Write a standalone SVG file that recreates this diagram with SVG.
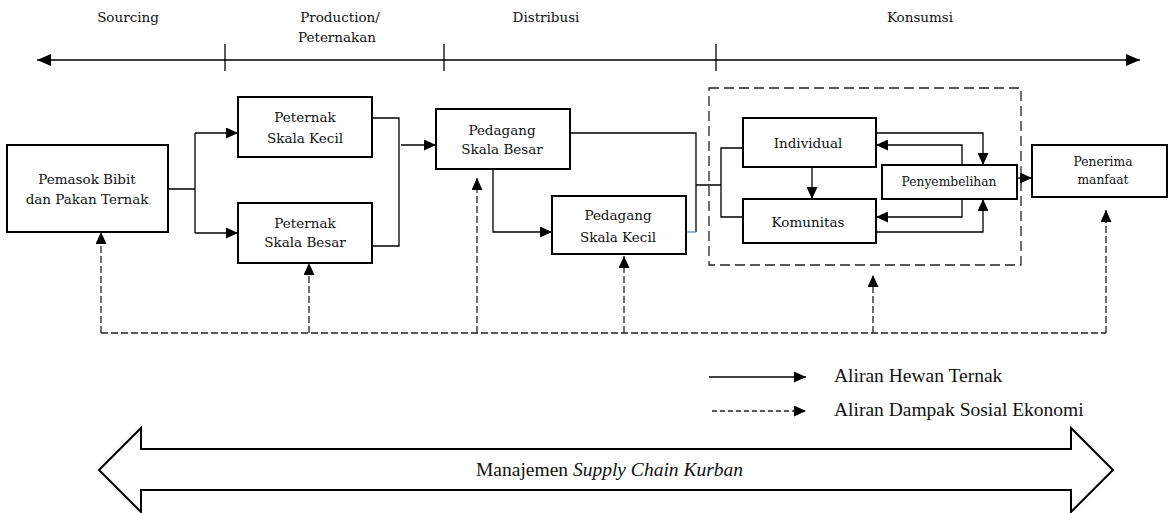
<svg xmlns="http://www.w3.org/2000/svg" width="1169" height="513" viewBox="0 0 1169 513">
  <style>
    .box { fill: #fff; stroke: #000; stroke-width: 2; }
    .lbl { font-family: "DejaVu Serif", "Liberation Serif", serif; font-size: 13.5px; fill: #111; text-anchor: middle; }
    .sm { font-size: 12.3px; }
    .tm { font-family: "Liberation Serif", "Times New Roman", serif; font-size: 19.5px; fill: #111; }
    .ln { fill: none; stroke: #000; stroke-width: 1.3; }
    .dash { fill: none; stroke: #222; stroke-width: 1.3; stroke-dasharray: 7 3; }
    .dbox { fill: none; stroke: #222; stroke-width: 1.3; stroke-dasharray: 10 5; }
    .arr { marker-end: url(#ah); }
  </style>
  <defs>
    <marker id="ah" viewBox="0 0 12 11" refX="12" refY="5.5" markerWidth="12" markerHeight="11" markerUnits="userSpaceOnUse" orient="auto">
      <path d="M0,0 L12,5.5 L0,11 z" fill="#000"/>
    </marker>
    <marker id="axh" viewBox="0 0 14 12" refX="14" refY="6" markerWidth="14" markerHeight="12" markerUnits="userSpaceOnUse" orient="auto-start-reverse">
      <path d="M0,0 L14,6 L0,12 z" fill="#000"/>
    </marker>
  </defs>

  <!-- stage axis -->
  <g id="axis">
    <line x1="37" y1="60" x2="1140" y2="60" stroke="#000" stroke-width="1.5" marker-start="url(#axh)" marker-end="url(#axh)"/>
    <line x1="225" y1="44" x2="225" y2="71" stroke="#000" stroke-width="1.3"/>
    <line x1="444" y1="44" x2="444" y2="71" stroke="#000" stroke-width="1.3"/>
    <line x1="716" y1="44" x2="716" y2="71" stroke="#000" stroke-width="1.3"/>
    <text class="lbl" x="128" y="22">Sourcing</text>
    <text class="lbl" x="340" y="22">Production/</text>
    <text class="lbl" x="337" y="42">Peternakan</text>
    <text class="lbl" x="546" y="22">Distribusi</text>
    <text class="lbl" x="920" y="22">Konsumsi</text>
  </g>

  <!-- consumption group boundary -->
  <rect id="konsumsi-area" x="709" y="88" width="312" height="177" class="dbox"/>

  <!-- connectors -->
  <g id="connectors">
    <path class="ln" d="M168,189 H195 M195,133 V233"/>
    <path class="ln arr" d="M195,133 H238"/>
    <path class="ln arr" d="M195,233 H238"/>
    <path class="ln" d="M372,118 H399 V246 H372"/>
    <path class="ln arr" d="M401,145 H436"/>
    <path class="ln arr" d="M493,169 V232 H552"/>
    <path class="ln" d="M570,133 H696 V232"/>
    <path fill="none" stroke="#5b86c8" stroke-width="1.3" d="M686,232 H696"/>
    <path class="ln" d="M696,185 H721 M743,148 H721 V217 H743"/>
    <path class="ln arr" d="M812,167 V199"/>
    <path class="ln arr" d="M876,133 H983 V165"/>
    <path class="ln arr" d="M962,165 V145 H876"/>
    <path class="ln arr" d="M962,199 V217 H876"/>
    <path class="ln arr" d="M876,232 H983 V199"/>
    <path class="ln arr" d="M1017,178 H1032"/>
    <!-- socio-economic impact feedback -->
    <path class="dash" d="M101,333 H1106"/>
    <path class="dash arr" d="M101,333 V232"/>
    <path class="dash arr" d="M309,333 V263"/>
    <path class="dash arr" d="M477,333 V178"/>
    <path class="dash arr" d="M624,333 V256"/>
    <path class="dash arr" d="M873,333 V275"/>
    <path class="dash arr" d="M1106,333 V210"/>
  </g>

  <!-- nodes -->
  <g id="pemasok">
    <rect class="box" x="7" y="145" width="161" height="87"/>
    <text class="lbl" x="87" y="184">Pemasok Bibit</text>
    <text class="lbl" x="87" y="204">dan Pakan Ternak</text>
  </g>
  <g id="peternak-kecil">
    <rect class="box" x="238" y="97" width="134" height="60"/>
    <text class="lbl" x="305" y="122">Peternak</text>
    <text class="lbl" x="305" y="143">Skala Kecil</text>
  </g>
  <g id="peternak-besar">
    <rect class="box" x="238" y="203" width="134" height="60"/>
    <text class="lbl" x="305" y="228">Peternak</text>
    <text class="lbl" x="305" y="247">Skala Besar</text>
  </g>
  <g id="pedagang-besar">
    <rect class="box" x="436" y="109" width="134" height="60"/>
    <text class="lbl" x="502" y="135">Pedagang</text>
    <text class="lbl" x="502" y="154">Skala Besar</text>
  </g>
  <g id="pedagang-kecil">
    <rect class="box" x="552" y="196" width="134" height="58"/>
    <text class="lbl" x="618" y="220">Pedagang</text>
    <text class="lbl" x="618" y="242">Skala Kecil</text>
  </g>
  <g id="individual">
    <rect class="box" x="743" y="118" width="133" height="49"/>
    <text class="lbl" x="808" y="148">Individual</text>
  </g>
  <g id="komunitas">
    <rect class="box" x="743" y="199" width="133" height="44"/>
    <text class="lbl" x="808" y="227">Komunitas</text>
  </g>
  <g id="penyembelihan">
    <rect class="box" x="882" y="165" width="135" height="34"/>
    <text class="lbl sm" x="949" y="186">Penyembelihan</text>
  </g>
  <g id="penerima">
    <rect class="box" x="1032" y="145" width="135" height="52"/>
    <text class="lbl sm" x="1103" y="166">Penerima</text>
    <text class="lbl sm" x="1103" y="184">manfaat</text>
  </g>

  <!-- legend -->
  <g id="legend">
    <path class="ln arr" d="M709,377 H806"/>
    <path fill="none" stroke="#222" stroke-width="1.3" stroke-dasharray="5 3" marker-end="url(#ah)" d="M712,411 H806"/>
    <text class="tm" x="834" y="382">Aliran Hewan Ternak</text>
    <text class="tm" x="834" y="416">Aliran Dampak Sosial Ekonomi</text>
  </g>

  <!-- management band -->
  <g id="supply-chain">
    <path d="M99,470 L141,428 V449 H1071 V428 L1113,470 L1071,512 V490 H141 V512 Z" fill="#fff" stroke="#000" stroke-width="2"/>
    <text class="tm" x="476" y="476" font-size="19">Manajemen <tspan font-style="italic">Supply Chain Kurban</tspan></text>
  </g>
</svg>
